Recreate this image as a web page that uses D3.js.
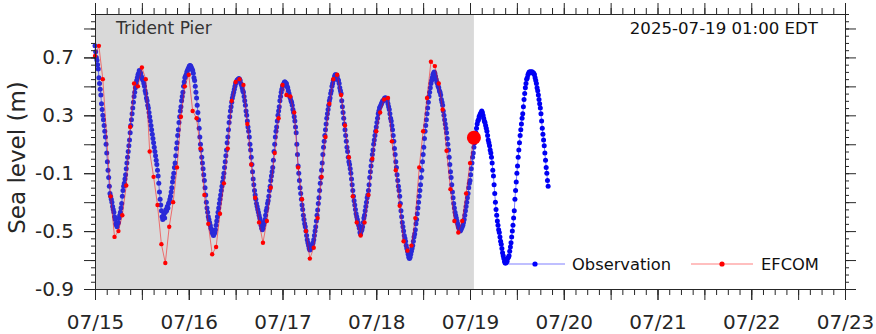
<!DOCTYPE html>
<html><head><meta charset="utf-8">
<script src="https://cdn.jsdelivr.net/npm/d3@7"></script>
<style>body{margin:0;background:#fff}svg{display:block;font-family:"DejaVu Sans",sans-serif}</style>
</head><body><svg id="c" width="876" height="334"></svg>
<script>
const stationName = "Trident Pier";
const nowLabel = "2025-07-19 01:00 EDT";
const yAxisTitle = "Sea level (m)";
const yTickLabels = [-0.9, -0.5, -0.1, 0.3, 0.7];
const xTickLabels = ["07/15","07/16","07/17","07/18","07/19","07/20","07/21","07/22","07/23"];
const legendNames = ["Observation", "EFCOM"];
const obsStepMinutes = 10;
// observation, 10-minute samples from 07/15 00:00
const obsValues = [
0.78,0.74,0.70,0.68,0.65,0.62, 0.56,0.52,0.48,0.44,0.38,0.34, 0.30,0.27,0.23,0.19,0.15,0.10,
0.04,-0.02,-0.08,-0.13,-0.19,-0.24, -0.26,-0.28,-0.30,-0.33,-0.35,-0.37, -0.40,-0.42,-0.45,-0.46,-0.47,-0.45,
-0.44,-0.41,-0.39,-0.37,-0.34,-0.31, -0.26,-0.22,-0.19,-0.17,-0.14,-0.11, -0.07,-0.03,0.01,0.05,0.09,0.13,
0.18,0.23,0.27,0.31,0.35,0.39, 0.43,0.46,0.49,0.52,0.54,0.56, 0.58,0.59,0.61,0.60,0.59,0.57,
0.56,0.55,0.54,0.52,0.50,0.47, 0.45,0.42,0.40,0.37,0.35,0.32, 0.29,0.26,0.23,0.20,0.17,0.14,
0.11,0.08,0.05,0.02,-0.01,-0.04, -0.08,-0.12,-0.17,-0.23,-0.28,-0.32, -0.36,-0.40,-0.42,-0.40,-0.38,-0.41,
-0.37,-0.35,-0.36,-0.33,-0.34,-0.31, -0.30,-0.28,-0.26,-0.23,-0.20,-0.16, -0.13,-0.10,-0.06,-0.03,0.02,0.07,
0.11,0.16,0.20,0.25,0.29,0.33, 0.36,0.40,0.43,0.46,0.50,0.53, 0.56,0.57,0.58,0.60,0.61,0.62,
0.63,0.64,0.645,0.64,0.63,0.62, 0.61,0.59,0.56,0.54,0.50,0.46, 0.42,0.37,0.32,0.27,0.21,0.15,
0.10,0.06,0.01,-0.03,-0.07,-0.11, -0.15,-0.20,-0.25,-0.30,-0.34,-0.37, -0.40,-0.42,-0.44,-0.46,-0.48,-0.49,
-0.51,-0.52,-0.53,-0.52,-0.51,-0.49, -0.46,-0.43,-0.40,-0.37,-0.34,-0.31, -0.28,-0.25,-0.22,-0.19,-0.16,-0.13,
-0.10,-0.06,-0.02,0.02,0.06,0.11, 0.15,0.20,0.25,0.29,0.33,0.36, 0.39,0.42,0.44,0.46,0.48,0.50,
0.52,0.53,0.54,0.545,0.55,0.555, 0.55,0.54,0.52,0.51,0.49,0.47, 0.46,0.43,0.40,0.37,0.33,0.30,
0.26,0.22,0.19,0.15,0.10,0.06, 0.01,-0.04,-0.09,-0.14,-0.18,-0.22, -0.25,-0.28,-0.31,-0.33,-0.35,-0.37,
-0.39,-0.41,-0.43,-0.46,-0.48,-0.49, -0.48,-0.46,-0.44,-0.42,-0.39,-0.36, -0.34,-0.31,-0.29,-0.26,-0.22,-0.19,
-0.15,-0.12,-0.09,-0.06,-0.01,0.05, 0.10,0.15,0.19,0.22,0.26,0.30, 0.33,0.36,0.40,0.43,0.46,0.48,
0.50,0.51,0.52,0.53,0.53,0.52, 0.52,0.50,0.49,0.47,0.45,0.43, 0.42,0.40,0.39,0.37,0.34,0.32,
0.29,0.26,0.22,0.18,0.10,0.03, -0.05,-0.10,-0.15,-0.20,-0.24,-0.28, -0.32,-0.35,-0.39,-0.42,-0.45,-0.47,
-0.50,-0.53,-0.56,-0.58,-0.60,-0.62, -0.63,-0.62,-0.61,-0.61,-0.59,-0.58, -0.56,-0.53,-0.50,-0.47,-0.43,-0.39,
-0.355,-0.31,-0.27,-0.22,-0.17,-0.13, -0.08,-0.03,0.03,0.08,0.12,0.16, 0.20,0.24,0.28,0.31,0.34,0.37,
0.40,0.42,0.45,0.47,0.50,0.52, 0.54,0.55,0.57,0.58,0.58,0.575, 0.57,0.55,0.54,0.52,0.49,0.47,
0.45,0.40,0.36,0.32,0.28,0.24, 0.20,0.16,0.12,0.08,0.05,0.01, -0.02,-0.04,-0.07,-0.10,-0.14,-0.18,
-0.22,-0.26,-0.29,-0.32,-0.35,-0.38, -0.40,-0.42,-0.44,-0.46,-0.48,-0.51, -0.52,-0.50,-0.49,-0.47,-0.44,-0.41,
-0.39,-0.36,-0.33,-0.30,-0.27,-0.25, -0.22,-0.18,-0.13,-0.09,-0.05,-0.01, 0.03,0.06,0.10,0.13,0.16,0.19,
0.22,0.25,0.28,0.31,0.33,0.35, 0.36,0.37,0.38,0.39,0.40,0.40, 0.41,0.42,0.42,0.42,0.41,0.40,
0.38,0.36,0.34,0.31,0.28,0.26, 0.23,0.20,0.16,0.12,0.07,0.03, -0.02,-0.06,-0.11,-0.15,-0.19,-0.22,
-0.26,-0.31,-0.36,-0.40,-0.44,-0.47, -0.50,-0.53,-0.55,-0.57,-0.60,-0.62, -0.64,-0.66,-0.68,-0.69,-0.68,-0.66,
-0.64,-0.62,-0.60,-0.57,-0.54,-0.52, -0.49,-0.45,-0.42,-0.38,-0.34,-0.30, -0.26,-0.22,-0.18,-0.13,-0.08,-0.02,
0.03,0.08,0.14,0.19,0.23,0.27, 0.31,0.35,0.39,0.43,0.46,0.49, 0.52,0.54,0.56,0.58,0.59,0.60,
0.59,0.57,0.55,0.53,0.52,0.50, 0.49,0.47,0.46,0.44,0.41,0.39, 0.37,0.33,0.30,0.27,0.24,0.21,
0.18,0.14,0.10,0.06,0.01,-0.04, -0.09,-0.13,-0.18,-0.23,-0.27,-0.31, -0.34,-0.37,-0.39,-0.41,-0.43,-0.45,
-0.47,-0.48,-0.49,-0.50,-0.49,-0.48, -0.47,-0.46,-0.44,-0.42,-0.39,-0.36, -0.33,-0.30,-0.27,-0.24,-0.20,-0.17,
-0.15,-0.11,-0.07,-0.03,0.01,0.04, 0.08,0.11,0.14,0.18,0.21,0.24, 0.26,0.27,0.29,0.30,0.31,0.32,
0.33,0.32,0.30,0.28,0.26,0.25, 0.23,0.21,0.19,0.16,0.13,0.11, 0.09,0.06,0.04,0.01,-0.03,-0.08,
-0.12,-0.18,-0.24,-0.30,-0.35,-0.39, -0.43,-0.46,-0.49,-0.51,-0.54,-0.57, -0.59,-0.62,-0.65,-0.67,-0.69,-0.71,
-0.72,-0.72,-0.71,-0.71,-0.69,-0.68, -0.67,-0.64,-0.61,-0.58,-0.54,-0.50, -0.46,-0.41,-0.36,-0.28,-0.22,-0.16,
-0.10,-0.05,0.01,0.06,0.11,0.16, 0.20,0.24,0.28,0.31,0.36,0.41, 0.45,0.49,0.52,0.55,0.56,0.58,
0.59,0.60,0.60,0.60,0.60,0.60, 0.60,0.59,0.59,0.58,0.56,0.54, 0.52,0.49,0.47,0.44,0.41,0.38,
0.35,0.31,0.26,0.21,0.17,0.13, 0.09,0.04,-0.01,-0.06,-0.10,-0.15, -0.19
];
// EFCOM model, hours after 07/15 00:00
const efcomHours = [0,1,2,4,5,6,7,8,9,10,11,12,13,14,15,16,17,18,19,20,21,22,23,24,25,26,27,28,29,30,31,32,33,34,35,36,37,38,39,40,41,42,43,44,45,46,47,48,49,50,51,52,53,54,55,56,57,58,59,60,61,62,63,64,65,66,67,68,69,70,71,72,73,74,75,76,77,78,79,80,81,82,83,84,85,86,87,88,89,90,91,92,93,94,95,96,97];
const efcomValues = [0.71,0.78,0.55,-0.26,-0.54,-0.50,-0.39,-0.185,0.22,0.52,0.50,0.63,0.55,0.05,-0.125,-0.32,-0.59,-0.72,-0.47,-0.30,-0.06,0.29,0.50,
0.58,0.33,0.28,0.07,-0.25,-0.45,-0.66,-0.61,-0.38,-0.17,0.07,0.40,0.53,0.55,0.51,0.24,-0.04,-0.27,-0.44,-0.58,-0.43,-0.20,0.04,0.28,
0.51,0.44,0.43,0.32,-0.06,-0.28,-0.50,-0.69,-0.615,-0.41,-0.125,0.15,0.38,0.55,0.58,0.44,0.23,0.01,-0.26,-0.44,-0.53,-0.44,-0.25,0.00,
0.19,0.32,0.41,0.42,0.12,-0.08,-0.325,-0.57,-0.635,-0.60,-0.41,-0.06,0.19,0.42,0.67,0.64,0.52,0.34,0.055,-0.21,-0.43,-0.51,-0.43,-0.24,-0.03,0.145];
const nowHour = 97;

const t0 = new Date(2025, 6, 15, 0, 0);
const tEnd = new Date(2025, 6, 23, 0, 0);
const hourMs = 3600e3;
const obs = obsValues.map((v, i) => ({t: new Date(+t0 + i * obsStepMinutes * 60e3), v}));
const efc = efcomHours.map((h, i) => ({t: new Date(+t0 + h * hourMs), v: efcomValues[i]}));
const nowT = new Date(+t0 + nowHour * hourMs);
const nowV = efcomValues[efcomHours.indexOf(nowHour)];

const L = 95, R = 845, T = 14, B = 289;
const ink = "#262626";
const x = d3.scaleTime().domain([t0, tEnd]).range([L, R]);
const y = d3.scaleLinear().domain([-0.9, 1.0]).range([B, T]);
const svg = d3.select("#c");

svg.append("rect").attr("x", L).attr("y", T).attr("width", x(nowT) - L).attr("height", B - T).attr("fill", "#d9d9d9");

const g = svg.append("g");
const line = d3.line().x(d => x(d.t)).y(d => y(d.v));
g.append("path").datum(obs).attr("d", line).attr("fill", "none").attr("stroke", "#0000ff").attr("stroke-opacity", 0.5).attr("stroke-width", 1);
g.selectAll("circle.o").data(obs).join("circle").attr("class", "o")
  .attr("cx", d => x(d.t)).attr("cy", d => y(d.v)).attr("r", 2.5)
  .attr("fill", d => d.t <= nowT ? "#2a2ad8" : "#0000f4");
g.append("path").datum(efc).attr("d", line).attr("fill", "none").attr("stroke", "#ff0000").attr("stroke-opacity", 0.5).attr("stroke-width", 1);
g.selectAll("circle.e").data(efc).join("circle").attr("class", "e")
  .attr("cx", d => x(d.t)).attr("cy", d => y(d.v)).attr("r", 2.2).attr("fill", "#ff0000");
g.append("circle").attr("cx", x(nowT)).attr("cy", y(nowV)).attr("r", 7).attr("fill", "#ff0000");

// axes
function styleAxis(sel) {
  sel.select(".domain").remove();
  sel.selectAll(".tick line").attr("stroke", ink);
  sel.selectAll(".tick text").attr("fill", ink).attr("font-size", 20).attr("font-family", "DejaVu Sans");
}
const h3 = d3.timeHour.every(3).range(t0, new Date(+tEnd + 1));
const h12 = d3.timeHour.every(12).range(t0, new Date(+tEnd + 1));
const days = d3.timeDay.range(t0, new Date(+tEnd + 1));
const noLab = () => "";
svg.append("g").attr("transform", `translate(0,${B})`).call(d3.axisBottom(x).tickValues(h3).tickSize(6).tickFormat(noLab)).call(styleAxis);
svg.append("g").attr("transform", `translate(0,${B})`).call(d3.axisBottom(x).tickValues(h12).tickSize(11).tickFormat(noLab)).call(styleAxis);
svg.append("g").attr("transform", `translate(0,${B})`).call(d3.axisBottom(x).tickValues(days).tickSize(11).tickPadding(15).tickFormat((d, i) => xTickLabels[i])).call(styleAxis);
svg.append("g").attr("transform", `translate(0,${T})`).call(d3.axisTop(x).tickValues(h3).tickSize(6).tickFormat(noLab)).call(styleAxis);
svg.append("g").attr("transform", `translate(0,${T})`).call(d3.axisTop(x).tickValues(h12).tickSize(11).tickFormat(noLab)).call(styleAxis);

const yMinor = d3.range(0, 39).map(i => Math.round((-0.9 + i * 0.05) * 100) / 100);
const yMajor = d3.range(0, 10).map(i => Math.round((-0.9 + i * 0.2) * 100) / 100);
svg.append("g").attr("transform", `translate(${L},0)`).call(d3.axisLeft(y).tickValues(yMinor).tickSize(4).tickFormat(noLab)).call(styleAxis);
svg.append("g").attr("transform", `translate(${L},0)`).call(d3.axisLeft(y).tickValues(yMajor).tickSize(11).tickFormat(noLab)).call(styleAxis);
svg.append("g").attr("transform", `translate(${L},0)`).call(d3.axisLeft(y).tickValues(yTickLabels).tickSize(11).tickPadding(10).tickFormat(d => d.toFixed(1))).call(styleAxis);
svg.append("g").attr("transform", `translate(${R},0)`).call(d3.axisRight(y).tickValues(yMinor).tickSize(4).tickFormat(noLab)).call(styleAxis);
svg.append("g").attr("transform", `translate(${R},0)`).call(d3.axisRight(y).tickValues(yMajor).tickSize(11).tickFormat(noLab)).call(styleAxis);

svg.append("rect").attr("x", L).attr("y", T).attr("width", R - L).attr("height", B - T)
  .attr("fill", "none").attr("stroke", ink).attr("stroke-width", 1).attr("shape-rendering", "crispEdges");

svg.append("text").attr("transform", `translate(25,${(T + B) / 2 + 6}) rotate(-90)`).attr("text-anchor", "middle")
  .attr("font-size", 23).attr("fill", ink).text(yAxisTitle);
svg.append("text").attr("x", 116).attr("y", 34).attr("font-size", 17).attr("fill", "#333").text(stationName);
svg.append("text").attr("x", 818).attr("y", 34).attr("text-anchor", "end").attr("font-size", 16.6).attr("fill", "#111").text(nowLabel);

// legend
const leg = svg.append("g");
const ly = 264;
const items = [{name: legendNames[0], c: "#0000ff", x1: 505, x2: 565, tx: 572},
               {name: legendNames[1], c: "#ff0000", x1: 691, x2: 753, tx: 761}];
items.forEach(it => {
  leg.append("line").attr("x1", it.x1).attr("x2", it.x2).attr("y1", ly).attr("y2", ly).attr("stroke", it.c).attr("stroke-opacity", 0.5);
  leg.append("circle").attr("cx", (it.x1 + it.x2) / 2).attr("cy", ly).attr("r", 2.6).attr("fill", it.c);
  leg.append("text").attr("x", it.tx).attr("y", ly + 6).attr("font-size", 16.3).attr("fill", "#111").text(it.name);
});
</script></body></html>
